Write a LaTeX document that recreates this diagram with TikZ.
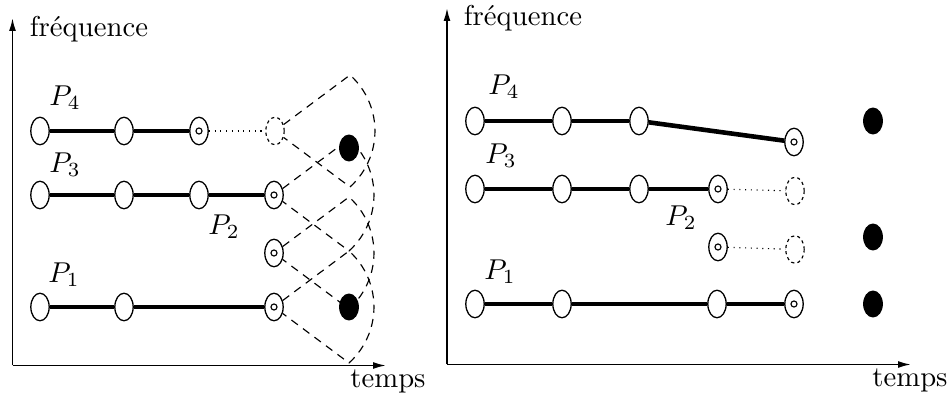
\documentclass[tikz,border=0pt]{standalone}
\usepackage{fontspec}
\usetikzlibrary{shapes.geometric,arrows.meta,calc}
\begin{document}
\begin{tikzpicture}[x=0.3484pt,y=-0.3484pt,
  obs/.style={ellipse,draw,line width=0.45pt,inner sep=0pt,minimum width=6.4pt,minimum height=9.6pt,fill=white},
  endobs/.style={obs,path picture={\draw[line width=0.4pt] (path picture bounding box.center) circle[radius=1.05pt];}},
  ghost/.style={obs,dash pattern=on 1.1pt off 1.1pt,line width=0.4pt},
  blackobs/.style={ellipse,fill=black,inner sep=0pt,minimum width=6.9pt,minimum height=9.4pt},
  seg/.style={line width=1.6pt},
  dots/.style={line width=0.4pt,dash pattern=on 0.4pt off 1.6pt},
  fan/.style={line width=0.4pt,dash pattern=on 2.8pt off 2.2pt},
  axis/.style={line width=0.6pt,-{Latex[length=4.5pt,width=2.4pt]}},
  lab/.style={inner sep=0pt}]
\useasboundingbox (0,0) rectangle (950,400);

% ---------------- left panel ----------------
\coordinate (oL) at (12.5,365.5);
\coordinate (yL) at (12.5,18);
\coordinate (xL) at (386,365.5);
\draw[axis] (oL) -- (yL);
\draw[axis] (oL) -- (xL);
\node[lab,anchor=base] (fL) at (89,37) {fréquence};
\node[lab,anchor=base] (tL) at (388,388) {temps};

\node[lab] (lP4) at (65,98) {$P_4$};
\node[lab] (lP3) at (65,165) {$P_3$};
\node[lab] (lP2) at (224,227) {$P_2$};
\node[lab] (lP1) at (64,275) {$P_1$};

\node[obs] (a1) at (40,131) {};
\node[obs] (a2) at (124,131) {};
\node[endobs] (a3) at (199,131) {};
\node[ghost] (a4) at (275,131) {};
\draw[seg] (a1) -- (a2);
\draw[seg] (a2) -- (a3);
\draw[dots] (a3) -- (a4);

\node[obs] (b1) at (40,195) {};
\node[obs] (b2) at (124,195) {};
\node[obs] (b3) at (199,195) {};
\node[endobs] (b4) at (274,195) {};
\draw[seg] (b1) -- (b2);
\draw[seg] (b2) -- (b3);
\draw[seg] (b3) -- (b4);

\node[endobs] (c1) at (274,253) {};

\node[obs] (d1) at (40,307) {};
\node[obs] (d2) at (124,307) {};
\node[endobs] (d3) at (274,307) {};
\draw[seg] (d1) -- (d2);
\draw[seg] (d2) -- (d3);

\foreach \n in {a4,b4,c1,d3}{
  \draw[fan] (\n) -- ($(\n.center)+(75,-56)$)
     arc[start angle=-48.1,end angle=48.1,radius=75.2] -- (\n);
}

\node[blackobs] (k1) at (349,148) {};
\node[blackobs] (k2) at (349,307) {};

% ---------------- right panel ----------------
\coordinate (oR) at (447,364.5);
\coordinate (yR) at (447,8);
\coordinate (xR) at (911,364.5);
\draw[axis] (oR) -- (yR);
\draw[axis] (oR) -- (xR);
\node[lab,anchor=base] (fR) at (523,26) {fréquence};
\node[lab,anchor=base] (tR) at (910,387) {temps};

\node[lab] (rP4) at (504,87) {$P_4$};
\node[lab] (rP3) at (501,156) {$P_3$};
\node[lab] (rP2) at (681,218) {$P_2$};
\node[lab] (rP1) at (500,272) {$P_1$};

\node[obs] (e1) at (475,121) {};
\node[obs] (e2) at (562,121) {};
\node[obs] (e3) at (639,121) {};
\node[endobs] (e4) at (794,142) {};
\draw[seg] (e1) -- (e2);
\draw[seg] (e2) -- (e3);
\draw[seg] (e3) -- (e4);

\node[obs] (f1) at (475,189) {};
\node[obs] (f2) at (562,189) {};
\node[obs] (f3) at (639,189) {};
\node[endobs] (f4) at (718,189) {};
\node[ghost] (f5) at (795,191) {};
\draw[seg] (f1) -- (f2);
\draw[seg] (f2) -- (f3);
\draw[seg] (f3) -- (f4);
\draw[dots] (f4) -- (f5);

\node[endobs] (g1) at (718,247) {};
\node[ghost] (g2) at (795,249.5) {};
\draw[dots] (g1) -- (g2);

\node[obs] (h1) at (475,304) {};
\node[obs] (h2) at (562,304) {};
\node[obs] (h3) at (717,304) {};
\node[endobs] (h4) at (794,304) {};
\draw[seg] (h1) -- (h2);
\draw[seg] (h2) -- (h3);
\draw[seg] (h3) -- (h4);

\node[blackobs] (m1) at (873,121) {};
\node[blackobs] (m2) at (873,237) {};
\node[blackobs] (m3) at (873,304) {};
\end{tikzpicture}
\end{document}
